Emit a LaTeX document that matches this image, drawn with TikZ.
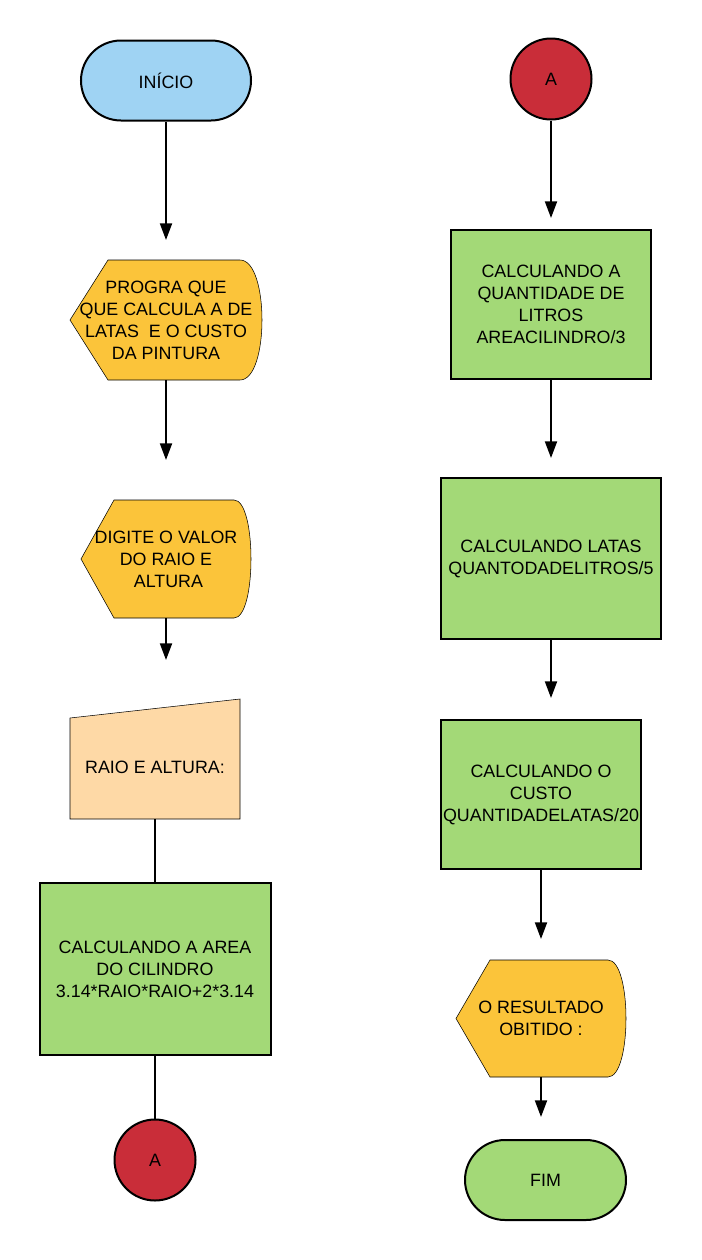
\documentclass[tikz,border=0pt]{standalone}
\usepackage{fontspec}
\setmainfont{Liberation Sans}
\usepackage{tikz}
\usetikzlibrary{arrows.meta,calc,backgrounds}

\definecolor{inicioblue}{HTML}{9FD3F3}
\definecolor{dispyellow}{HTML}{FBC43A}
\definecolor{inputpeach}{HTML}{FED9A6}
\definecolor{procgreen}{HTML}{A3D977}
\definecolor{connred}{HTML}{C92D39}

\newcommand{\dispshape}[3]{%
	\filldraw[fill=dispyellow] (#1.west) -- ($(#1.north west)+(#2,0)$) -- ($(#1.north east)+(-#3,0)$)
		.. controls ($(#1.north east)+(#3/3,0)$) and ($(#1.south east)+(#3/3,0)$) .. ($(#1.south east)+(-#3,0)$)
		-- ($(#1.south west)+(#2,0)$) -- cycle;}

\begin{document}
\begin{tikzpicture}[x=0.75pt,y=-0.75pt,line width=1.5pt,
	font=\fontsize{13.4}{16.5}\selectfont,
	terminal/.style={shape=rectangle,draw=black,rounded corners=30pt,minimum width=#1,minimum height=60pt,inner sep=0pt},
	procbox/.style 2 args={shape=rectangle,draw=black,fill=procgreen,minimum width=#1,minimum height=#2,inner sep=0pt,align=center},
	dispbox/.style 2 args={shape=rectangle,minimum width=#1,minimum height=#2,inner sep=0pt,outer sep=0pt,align=center},
	connector/.style={shape=circle,draw=black,fill=connred,minimum size=60.75pt,inner sep=0pt},
	flow/.style={-{Triangle[length=12.5pt,width=9pt]}}]

	\useasboundingbox (0,0) rectangle (701,1260);

	\node[terminal=127.5pt,fill=inicioblue] (inicio) at (166,80.5) {INÍCIO};
	\node[dispbox={144pt}{90pt}] (d1) at (166,320) {PROGRA QUE\\QUE CALCULA A DE\\LATAS\ \ E O CUSTO\\DA PINTURA};
	\node[dispbox={127.5pt}{88.5pt}] (d2) at (166,559) {DIGITE O VALOR\\DO RAIO E\\\ ALTURA};
	\node[dispbox={127.5pt}{78pt}] (mi) at (155,767) {RAIO E ALTURA:};
	\node[procbox={173.25pt}{129pt}] (p1) at (155,969) {CALCULANDO A AREA\\DO CILINDRO\\3.14*RAIO*RAIO+2*3.14};
	\node[connector] (a1) at (155,1160) {A};

	\node[connector] (a2) at (551,79) {A};
	\node[procbox={150pt}{111.75pt}] (p2) at (551,304.5) {CALCULANDO A\\QUANTIDADE DE\\LITROS\\AREACILINDRO/3};
	\node[procbox={165pt}{120.75pt}] (p3) at (551,558.5) {CALCULANDO LATAS\\QUANTODADELITROS/5};
	\node[procbox={150pt}{111.75pt}] (p4) at (541,794.5) {CALCULANDO O\\CUSTO\\QUANTIDADELATAS/20};
	\node[dispbox={127.5pt}{87.75pt}] (d3) at (541,1018.5) {O RESULTADO\\OBITIDO :};
	\node[terminal=120.75pt,fill=procgreen] (fim) at (545.5,1180) {FIM};

	\begin{scope}[on background layer]
		\dispshape{d1}{38}{22}
		\dispshape{d2}{33}{17}
		\dispshape{d3}{34}{18}
		\filldraw[fill=inputpeach] ($(mi.north west)+(0,3)$) -- ($(mi.north east)+(0,-16)$) -- (mi.south east) -- (mi.south west) -- cycle;
	\end{scope}

	\draw[flow,shorten >=15pt] (inicio) -- (d1);
	\draw[flow,shorten >=30pt] (d1) -- (d2);
	\draw[flow,shorten >=41.25pt] (d2.south) -- (d2.south |- mi.north);
	\draw (mi.south) -- (p1.north);
	\draw (p1) -- (a1);

	\draw[flow,shorten >=8.25pt] (a2) -- (p2);
	\draw[flow,shorten >=14.25pt] (p2) -- (p3);
	\draw[flow,shorten >=15.75pt] (p3.south) -- (p3.south |- p4.north);
	\draw[flow,shorten >=15.75pt] (p4) -- (d3);
	\draw[flow,shorten >=16.5pt] (d3.south) -- (d3.south |- fim.north);

\end{tikzpicture}
\end{document}
